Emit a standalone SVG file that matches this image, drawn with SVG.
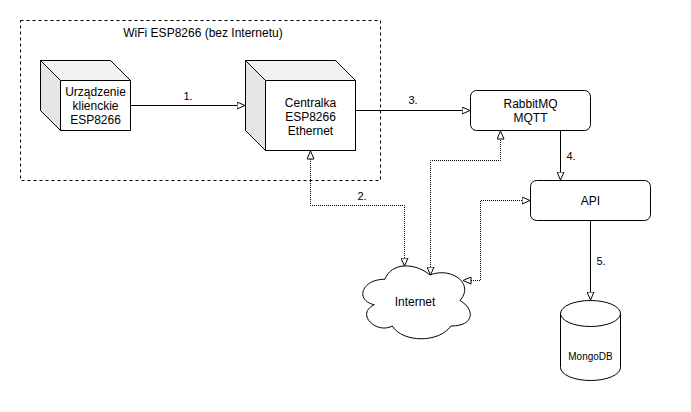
<svg xmlns="http://www.w3.org/2000/svg" width="691" height="412" viewBox="0 0 691 412">
<style>
text{font-family:"Liberation Sans",Arial,sans-serif;font-size:12px;fill:#000;text-anchor:middle}
.lbl{font-size:11px}
.small{font-size:10px}
.ln{fill:none;stroke:#000;stroke-width:1}
.dot{fill:none;stroke:#000;stroke-width:1;stroke-dasharray:1 1}
.shape{fill:#fff;stroke:#000;stroke-width:1}
.top{fill:#f2f2f2;stroke:none}
.side{fill:#e6e6e6;stroke:none}
</style>
<defs>
<marker id="arr" viewBox="0 0 9 8" refX="8.5" refY="4" markerWidth="9" markerHeight="8" markerUnits="userSpaceOnUse" orient="auto-start-reverse">
<path d="M0.5,0.5 L8.5,4 L0.5,7.5 Z" fill="#fff" stroke="#000" stroke-width="1"/>
</marker>
</defs>
<rect width="691" height="412" fill="#fff"/>
<g id="wifi-group">
<rect x="20.5" y="20.5" width="360" height="160" fill="none" stroke="#000" stroke-dasharray="3 3"/>
<text x="203" y="37">WiFi ESP8266 (bez Internetu)</text>
</g>
<g id="client">
<path class="shape" d="M40.5,60.5 L110.5,60.5 L130.5,80.5 L130.5,130.5 L60.5,130.5 L40.5,110.5 Z"/>
<path class="top" d="M41,61 L110,61 L130,80 L60,80 Z"/>
<path class="side" d="M41,61 L60,80 L60,130 L41,110 Z"/>
<path class="ln" d="M40.5,60.5 L110.5,60.5 L130.5,80.5 L130.5,130.5 L60.5,130.5 L40.5,110.5 Z M40.5,60.5 L60.5,80.5 L130.5,80.5 M60.5,80.5 L60.5,130.5"/>
<text x="95.5" y="96">Urządzenie</text>
<text x="95.5" y="110">klienckie</text>
<text x="95.5" y="124">ESP8266</text>
</g>
<g id="centralka">
<path class="shape" d="M245.5,60.5 L335.5,60.5 L355.5,80.5 L355.5,150.5 L265.5,150.5 L245.5,130.5 Z"/>
<path class="top" d="M246,61 L335,61 L355,80 L265,80 Z"/>
<path class="side" d="M246,61 L265,80 L265,150 L246,130 Z"/>
<path class="ln" d="M245.5,60.5 L335.5,60.5 L355.5,80.5 L355.5,150.5 L265.5,150.5 L245.5,130.5 Z M245.5,60.5 L265.5,80.5 L355.5,80.5 M265.5,80.5 L265.5,150.5"/>
<text x="310.5" y="107">Centralka</text>
<text x="310.5" y="121">ESP8266</text>
<text x="310.5" y="135">Ethernet</text>
</g>
<g id="rabbitmq">
<rect class="shape" x="470.5" y="90.5" width="120" height="40" rx="6" ry="6"/>
<text x="530.5" y="108">RabbitMQ</text>
<text x="530.5" y="122">MQTT</text>
</g>
<g id="api">
<rect class="shape" x="530.5" y="180.5" width="120" height="40" rx="6" ry="6"/>
<text x="590.5" y="205">API</text>
</g>
<g id="mongodb">
<path class="shape" d="M560.5,313.5 A30,13 0 0 1 620.5,313.5 L620.5,367.5 A30,13 0 0 1 560.5,367.5 Z"/>
<path class="ln" d="M560.5,313.5 A30,13 0 0 0 620.5,313.5"/>
<text class="small" x="590.5" y="360">MongoDB</text>
</g>
<g id="internet">
<path class="shape" d="M385,279.25 C361,279.25 355,300.5 374.2,304.75 C355,314.1 376.6,334.5 392.2,326 C403,343 439,343 451,326 C475,326 475,309 460,300.5 C475,283.5 451,266.5 430,275 C415,262.25 391,262.25 385,279.25 Z"/>
<text x="415" y="306">Internet</text>
</g>
<g id="connectors">
<path class="ln" d="M130.5,105.5 L245,105.5" marker-end="url(#arr)"/>
<text class="lbl" x="188" y="100">1.</text>
<path class="dot" d="M404.5,266 L404.5,205.5 L310.5,205.5 L310.5,151" marker-start="url(#arr)" marker-end="url(#arr)"/>
<text class="lbl" x="362" y="200">2.</text>
<path class="ln" d="M355.5,110.5 L470,110.5" marker-end="url(#arr)"/>
<text class="lbl" x="413" y="104">3.</text>
<path class="dot" d="M430.5,275 L430.5,160.5 L500.5,160.5 L500.5,131" marker-start="url(#arr)" marker-end="url(#arr)"/>
<path class="ln" d="M560.5,130.5 L560.5,180" marker-end="url(#arr)"/>
<text class="lbl" x="571" y="160">4.</text>
<path class="dot" d="M463,280.5 L480.5,280.5 L480.5,200.5 L530,200.5" marker-start="url(#arr)" marker-end="url(#arr)"/>
<path class="ln" d="M590.5,220.5 L590.5,300" marker-end="url(#arr)"/>
<text class="lbl" x="601" y="265">5.</text>
</g>
</svg>
